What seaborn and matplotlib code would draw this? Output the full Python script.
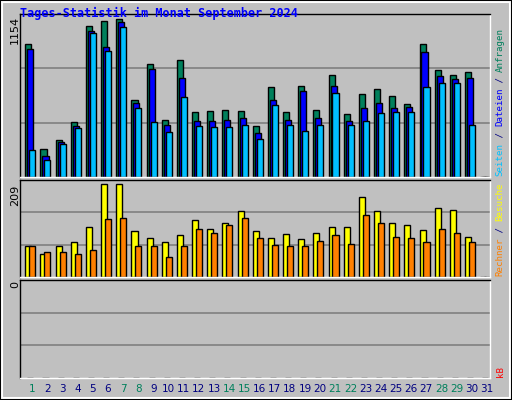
import matplotlib
matplotlib.use("Agg")
import matplotlib.pyplot as plt
import seaborn as sns
import numpy as np
import pandas as pd

sns.set_theme(style="white")
plt.rcParams['font.family'] = ['DejaVu Sans Mono', 'DejaVu Sans']

days = list(range(1, 32))
hits = [973,202,273,399,1102,1138,1154,564,824,414,855,477,485,493,485,375,658,477,666,493,745,462,603,643,595,532,973,784,745,769,0]
files = [934,157,257,375,1068,950,1131,540,792,383,721,409,407,414,430,320,564,414,627,430,666,407,501,540,501,509,910,737,713,721,0]
pages = [194,123,241,359,1052,918,1099,501,399,328,588,375,367,367,383,281,525,383,336,383,611,383,407,470,477,477,658,690,690,383,0]
visits = [71,51,69,80,114,209,209,103,89,78,94,128,109,121,148,103,89,98,85,100,112,112,180,150,123,118,107,155,152,91,0]
hosts = [71,57,57,53,62,132,134,69,69,46,69,109,100,118,134,87,73,71,69,82,94,75,139,123,91,89,78,109,100,80,0]
kbytes = [0]*31
weekend = {1,7,8,14,15,21,22,28,29}

BG = "#C0C0C0"
fig = plt.figure(figsize=(5.12, 4.0), dpi=100, facecolor=BG)
W, H = 512, 400
def px(l, t, r, b):
    return [l/W, 1-b/H, (r-l)/W, (b-t)/H]

def panel(rect, ymax):
    ax = fig.add_axes(px(*rect))
    ax.set_facecolor(BG)
    for f in (1/3, 2/3):
        ax.axhline(ymax*f, color="#808080", lw=1.2, zorder=0)
    for s in ax.spines.values():
        s.set_color("black"); s.set_linewidth(1)
    ax.spines['bottom'].set_color("white"); ax.spines['right'].set_color("white")
    return ax

def finish(ax, ymax):
    ax.set_xlim(0.5, 31.5); ax.set_ylim(0, ymax)
    ax.set_xticks([]); ax.set_yticks([]); ax.set_xlabel(""); ax.set_ylabel("")

def bars(ax, vals, off, color):
    d = pd.DataFrame({"x": np.array(days) + off, "y": vals})
    sns.barplot(data=d, x="x", y="y", native_scale=True, width=0.4, color=color,
                saturation=1, edgecolor="black", linewidth=1, ax=ax, zorder=2)

ax1 = panel((20, 14, 490, 177), 1191)
bars(ax1, hits, 0.05, "#00805C")
bars(ax1, files, 0.18, "#0000FF")
bars(ax1, pages, 0.31, "#00C0FF")
finish(ax1, 1191)

ax2 = panel((20, 180, 490, 277), 219)
bars(ax2, visits, 0.05, "#FFFF00")
bars(ax2, hosts, 0.31, "#FF8000")
finish(ax2, 219)

ax3 = panel((20, 280, 490, 378), 1)
bars(ax3, kbytes, 0.18, "#FF0000")
finish(ax3, 1)

for d in days:
    fig.text((20 + (d-0.5+0.3)*470/31)/W, 1-389/H, str(d), ha="center", va="center",
             fontsize=7.5, color="#00805C" if d in weekend else "#000080",
             family=['DejaVu Sans'])

fig.text(20/W, 1-13/H, "Tages-Statistik im Monat September 2024", color="#0000FF",
         fontsize=8.5, fontweight="bold", ha="left", va="center")
for y, t in ((30, "1154"), (195, "209"), (285, "0")):
    fig.text(15/W, 1-y/H, t, rotation=90, ha="center", va="center", fontsize=8, color="black",
             family=['DejaVu Sans'])

def vstack(xp, ybottom, parts, fs=6.6, step=5.5):
    y = ybottom
    for t, c in parts:
        fig.text(xp/W, 1-y/H, t, rotation=90, ha="center", va="bottom", fontsize=fs, color=c)
        y -= len(t)*step
vstack(500, 176, [("Seiten", "#00C0FF"), (" / ", "#000080"), ("Dateien", "#0000FF"),
                  (" / ", "#000080"), ("Anfragen", "#00805C")])
vstack(500, 276, [("Rechner", "#FF8000"), (" / ", "#000080"), ("Besuche", "#FFFF00")])
vstack(500, 377, [("kB", "#FF0000")])

fig.patches.append(plt.Rectangle((2/W, 2/H), 1-4/W, 1-4/H, transform=fig.transFigure,
                                 fill=False, edgecolor="white", lw=1.5))
fig.patches.append(plt.Rectangle((0, 0), 1, 1, transform=fig.transFigure,
                                 fill=False, edgecolor="black", lw=1.5))
fig.savefig("out.png", dpi=100, facecolor=BG)
